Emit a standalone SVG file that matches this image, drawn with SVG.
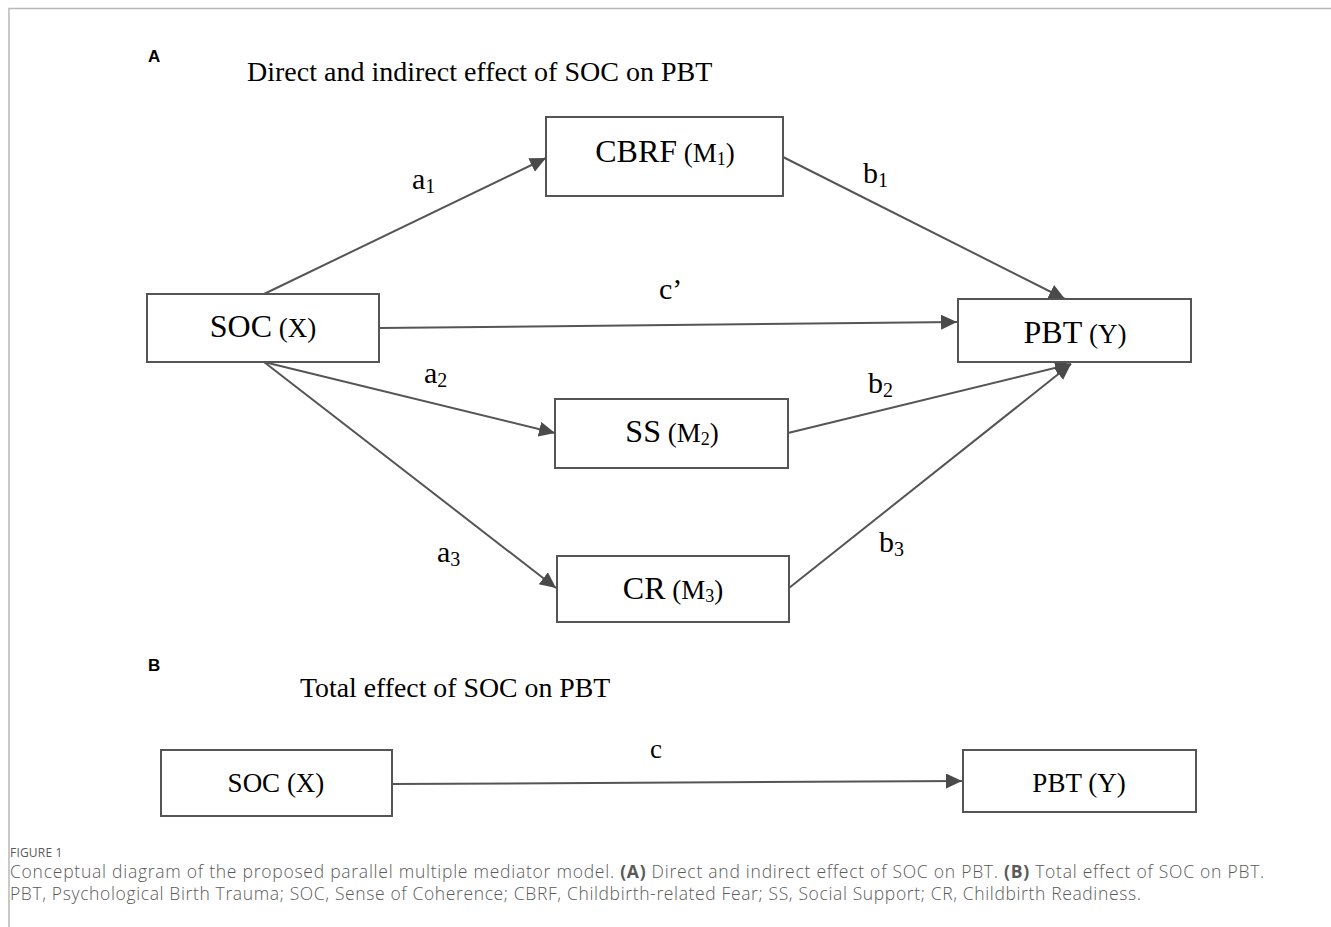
<svg xmlns="http://www.w3.org/2000/svg" width="1331" height="927" viewBox="0 0 1331 927">
<style>
.frame{stroke:#b8b8b8;stroke-width:1.5;fill:none}
.box{fill:#fff;stroke:#555;stroke-width:2}
.edge{stroke:#555;stroke-width:2;fill:none}
.serif{font-family:"Liberation Serif","Times New Roman",serif;fill:#000}
.node{font-size:32px;text-anchor:middle}
.sm{font-size:27px}
.sub{font-size:18px}
.lbl{font-size:30px}
.lsub{font-size:20px}
.panel{font-family:"Liberation Sans",Arial,sans-serif;font-weight:bold;font-size:17px;fill:#000}
.cap{font-family:"Open Sans","Liberation Sans",sans-serif;font-size:17.5px;font-weight:300;fill:#5a5a5a;letter-spacing:0.75px}
.fig{font-family:"Open Sans","Liberation Sans",sans-serif;font-size:12px;font-weight:400;fill:#5a5a5a;letter-spacing:0.2px}
</style>
<defs>
<marker id="arr" markerUnits="userSpaceOnUse" markerWidth="17" markerHeight="16" refX="16" refY="7.5" orient="auto">
<path d="M0,0 L16,7.5 L0,15 z" fill="#4a4a4a"/>
</marker>
</defs>
<rect width="1331" height="927" fill="#fff"/>
<path class="frame" d="M9,927 V8.5 H1331"/>

<text class="panel" x="148" y="62">A</text>
<text class="serif" x="247" y="81" font-size="28">Direct and indirect effect of SOC on PBT</text>

<g id="connectors">
<line class="edge" x1="264" y1="294" x2="546" y2="158" marker-end="url(#arr)"/>
<line class="edge" x1="379" y1="328" x2="957" y2="322" marker-end="url(#arr)"/>
<line class="edge" x1="783" y1="157" x2="1065" y2="299" marker-end="url(#arr)"/>
<line class="edge" x1="264" y1="362" x2="555" y2="433" marker-end="url(#arr)"/>
<line class="edge" x1="264" y1="362" x2="556" y2="588" marker-end="url(#arr)"/>
<line class="edge" x1="788" y1="433" x2="1071" y2="364" marker-end="url(#arr)"/>
<line class="edge" x1="789" y1="588" x2="1071" y2="364" marker-end="url(#arr)"/>
<line class="edge" x1="392" y1="784" x2="962" y2="781" stroke-width="2.5" marker-end="url(#arr)"/>
<text class="serif lbl" x="412" y="189">a<tspan class="lsub" dy="4">1</tspan></text>
<text class="serif lbl" x="863" y="183">b<tspan class="lsub" dy="4">1</tspan></text>
<text class="serif lbl" x="659" y="299">c’</text>
<text class="serif lbl" x="424" y="383">a<tspan class="lsub" dy="4">2</tspan></text>
<text class="serif lbl" x="868" y="393">b<tspan class="lsub" dy="4">2</tspan></text>
<text class="serif lbl" x="437" y="562">a<tspan class="lsub" dy="4">3</tspan></text>
<text class="serif lbl" x="879" y="552">b<tspan class="lsub" dy="4">3</tspan></text>
<text class="serif" x="650" y="758" font-size="27">c</text>
</g>

<g id="cbrf">
<rect class="box" x="546" y="117" width="237" height="79"/>
<text class="serif node" x="665" y="162">CBRF<tspan class="sm"> (M</tspan><tspan class="sub" dy="3">1</tspan><tspan class="sm" dy="-3">)</tspan></text>
</g>
<g id="soc">
<rect class="box" x="147" y="294" width="232" height="68"/>
<text class="serif node" x="263" y="337">SOC<tspan class="sm"> (X)</tspan></text>
</g>
<g id="pbt">
<rect class="box" x="958" y="299" width="233" height="63"/>
<text class="serif node" x="1075" y="343">PBT<tspan class="sm"> (Y)</tspan></text>
</g>
<g id="ss">
<rect class="box" x="555" y="399" width="233" height="69"/>
<text class="serif node" x="672" y="442">SS<tspan class="sm"> (M</tspan><tspan class="sub" dy="3">2</tspan><tspan class="sm" dy="-3">)</tspan></text>
</g>
<g id="cr">
<rect class="box" x="557" y="556" width="232" height="66"/>
<text class="serif node" x="673" y="599">CR<tspan class="sm"> (M</tspan><tspan class="sub" dy="3">3</tspan><tspan class="sm" dy="-3">)</tspan></text>
</g>

<text class="panel" x="148" y="671">B</text>
<text class="serif" x="300" y="697" font-size="27.8">Total effect of SOC on PBT</text>

<g id="soc-b">
<rect class="box" x="161" y="750" width="231" height="66"/>
<text class="serif" x="276" y="792" font-size="27" text-anchor="middle">SOC (X)</text>
</g>
<g id="pbt-b">
<rect class="box" x="963" y="750" width="233" height="62"/>
<text class="serif" x="1079" y="792" font-size="27" text-anchor="middle">PBT (Y)</text>
</g>

<text class="fig" x="10" y="857">FIGURE 1</text>
<text class="cap" x="10" y="878">Conceptual diagram of the proposed parallel multiple mediator model. <tspan font-weight="bold">(A)</tspan> Direct and indirect effect of SOC on PBT. <tspan font-weight="bold">(B)</tspan> Total effect of SOC on PBT.</text>
<text class="cap" x="10" y="900" style="letter-spacing:0.63px">PBT, Psychological Birth Trauma; SOC, Sense of Coherence; CBRF, Childbirth-related Fear; SS, Social Support; CR, Childbirth Readiness.</text>
</svg>
